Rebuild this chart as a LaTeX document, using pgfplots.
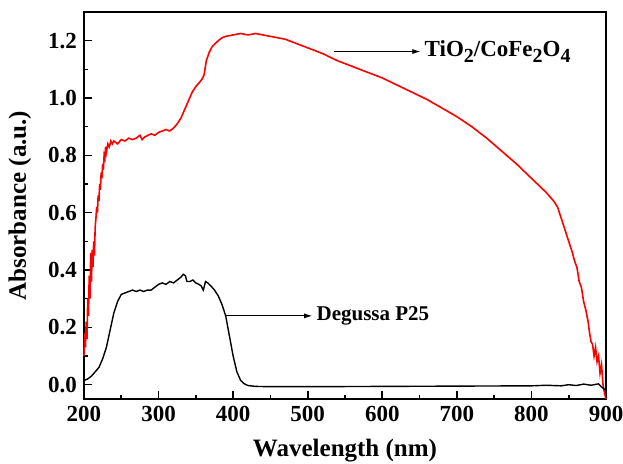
\documentclass[border=0pt]{standalone}
\usepackage{fontspec}
\setmainfont{Liberation Serif}
\usepackage{pgfplots}
\pgfplotsset{compat=1.18}
\usetikzlibrary{arrows.meta}

\newcommand{\sub}[1]{\raisebox{-0.6ex}{\fontsize{10}{12}\selectfont #1}}

\pgfplotstableread{
x y
200 0.10
201 0.18
202 0.13
203 0.22
204 0.16
205 0.30
206 0.24
207 0.38
208 0.30
209 0.46
210 0.36
211 0.47
212 0.41
213 0.50
214 0.45
215 0.55
216 0.58
217 0.62
218 0.60
219 0.66
220 0.64
221 0.70
222 0.68
223 0.74
224 0.72
225 0.77
226 0.75
227 0.80
228 0.79
229 0.83
230 0.81
232 0.84
234 0.83
236 0.85
238 0.84
240 0.85
245 0.84
250 0.855
255 0.85
260 0.86
265 0.855
270 0.86
275 0.87
278 0.855
282 0.865
286 0.87
290 0.875
295 0.87
300 0.88
305 0.885
310 0.89
315 0.885
320 0.895
325 0.91
330 0.93
335 0.96
340 0.99
345 1.02
350 1.04
355 1.055
358 1.065
361 1.08
364 1.13
368 1.16
372 1.18
376 1.19
380 1.20
385 1.21
390 1.215
400 1.22
410 1.225
420 1.22
430 1.225
440 1.22
450 1.215
460 1.21
470 1.205
480 1.195
490 1.185
500 1.175
520 1.155
540 1.13
560 1.11
580 1.09
600 1.07
620 1.045
640 1.02
660 0.995
680 0.965
700 0.935
720 0.90
740 0.86
760 0.815
780 0.77
800 0.72
810 0.695
820 0.67
830 0.64
835 0.62
840 0.58
845 0.54
850 0.50
855 0.46
858 0.43
861 0.41
864 0.36
867 0.34
870 0.29
873 0.26
876 0.22
878 0.18
880 0.15
882 0.14
884 0.10
886 0.13
888 0.08
890 0.10
892 0.04
894 0.07
896 0.00
898 -0.03
900 -0.05
}\tiocofe

\pgfplotstableread{
x y
200 0.015
205 0.02
210 0.03
215 0.045
220 0.06
225 0.09
230 0.13
235 0.19
240 0.25
245 0.29
250 0.315
255 0.32
260 0.325
265 0.33
270 0.325
275 0.33
280 0.325
285 0.33
290 0.33
295 0.34
300 0.35
305 0.355
310 0.35
315 0.36
320 0.355
325 0.365
330 0.375
333 0.385
336 0.38
338 0.36
342 0.36
346 0.365
350 0.355
354 0.35
357 0.345
360 0.33
363 0.36
366 0.355
370 0.345
375 0.33
380 0.31
385 0.28
390 0.24
395 0.17
400 0.10
405 0.045
410 0.015
415 0.003
420 -0.003
430 -0.006
450 -0.007
500 -0.007
600 -0.006
700 -0.005
800 -0.004
820 -0.002
840 -0.004
850 0.0
860 -0.003
870 0.002
880 -0.002
890 0.003
895 -0.01
900 -0.02
}\pquinze

\begin{document}
\begin{tikzpicture}
\begin{axis}[
  scale only axis,
  width=261pt, height=193.5pt,
  xmin=200, xmax=900, ymin=-0.05, ymax=1.3,
  xtick={200,300,...,900},
  ytick={0,0.2,...,1.2},
  minor x tick num=1, minor y tick num=1,
  tick align=inside,
  xtick pos=left, ytick pos=left,
  major tick length=4pt, minor tick length=2.2pt,
  axis line style={line width=1pt},
  every tick/.style={line width=0.8pt},
  /pgf/number format/assume math mode=true,
  ticklabel style={font=\bfseries\fontsize{11.5}{13}\selectfont},
  yticklabel style={/pgf/number format/fixed, /pgf/number format/fixed zerofill, /pgf/number format/precision=1},
  xticklabel style={/pgf/number format/1000 sep={}},
  xlabel={Wavelength (nm)},
  ylabel={Absorbance (a.u.)},
  label style={font=\bfseries\fontsize{12.5}{14}\selectfont},
  xlabel style={at={(axis description cs:0.5,-0.132)}, anchor=center},
  ylabel style={at={(axis description cs:-0.123,0.5)}, anchor=center},
  clip=false,
]
\addplot[red, line width=0.8pt] table[x=x, y=y] {\tiocofe};
\addplot[black, line width=0.7pt] table[x=x, y=y] {\pquinze};
\draw[-{Latex[length=4pt,width=2.5pt]}, line width=0.4pt] (axis cs:535,1.162) -- (axis cs:651,1.162)
  node[anchor=west, inner sep=2pt, font=\bfseries\fontsize{11.5}{13}\selectfont]
  {TiO\sub{2}/CoFe\sub{2}O\sub{4}};
\draw[-{Latex[length=4pt,width=2.5pt]}, line width=0.4pt] (axis cs:390,0.24) -- (axis cs:506,0.24)
  node[anchor=west, inner sep=2pt, font=\bfseries\fontsize{10.5}{12}\selectfont]
  {Degussa P25};
\coordinate (bbl) at ([xshift=-42pt, yshift=-32pt]rel axis cs:0,0);
\coordinate (btr) at ([xshift=8.5pt, yshift=6pt]rel axis cs:1,1);
\end{axis}
\pgfresetboundingbox
\path[use as bounding box] (bbl) rectangle (btr);
\end{tikzpicture}
\end{document}
